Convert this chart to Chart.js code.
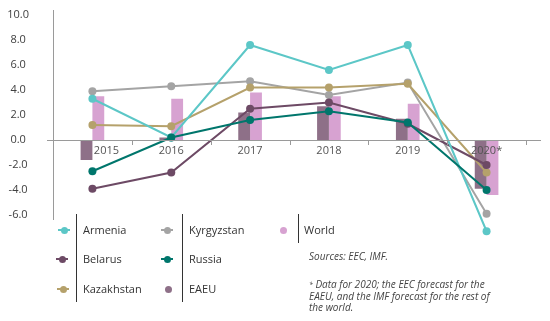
<!DOCTYPE html>
<html>
<head>
<meta charset="utf-8">
<script src="https://cdn.jsdelivr.net/npm/chart.js@4/dist/chart.umd.min.js"></script>
<style>
  body { margin: 0; background: #fff; font-family: "Open Sans", sans-serif; }
  #wrap { position: relative; width: 550px; height: 321px; }
  #wrap canvas { position: absolute; left: 0; top: 0; }
  .lg { position: absolute; font-size: 11px; color: #333; line-height: 14px; white-space: nowrap; }
  .sep { position: absolute; width: 1px; background: #333; }
  .ln { position: absolute; height: 2px; }
  .dot { position: absolute; width: 7px; height: 7px; border-radius: 50%; }
  .note { position: absolute; left: 309px; font-size: 10px; font-style: italic; color: #444; line-height: 11.5px; white-space: nowrap; }
</style>
</head>
<body>
<div id="wrap">
  <canvas id="chart" width="550" height="321"></canvas>
  <div class="note" style="top:251px">Sources: EEC, IMF.</div>
  <div class="note" style="top:279px"><span style="font-size:7px;vertical-align:top">*</span> Data for 2020; the EEC forecast for the<br>EAEU, and the IMF forecast for the rest of<br>the world.</div>
</div>
<script>
// categories
const years = ["2015", "2016", "2017", "2018", "2019", "2020*"];

// real GDP growth, %
const armenia = [3.3, 0.2, 7.6, 5.6, 7.6, -7.3];
const kyrgyzstan = [3.9, 4.3, 4.7, 3.6, 4.6, -5.9];
const kazakhstan = [1.2, 1.1, 4.2, 4.2, 4.5, -2.6];
const belarus = [-3.9, -2.6, 2.5, 3.0, 1.3, -2.0];
const russia = [-2.5, 0.2, 1.6, 2.3, 1.4, -4.0];
const eaeu = [-1.6, 0.2, 2.2, 2.7, 1.7, -3.9];
const world = [3.5, 3.3, 3.8, 3.5, 2.9, -4.4];

// y tick values
const yTicks = [-6, -4, -2, 0, 2, 4, 6, 8, 10];

const lineSet = (label, data, color, order) => ({
    type: "line",
    label,
    data,
    borderColor: color,
    backgroundColor: color,
    borderWidth: 2,
    pointRadius: 4,
    pointHoverRadius: 4,
    pointBorderWidth: 0,
    tension: 0,
    clip: false,
    order
});

// axis lines, category ticks and year labels
const axisPlugin = {
    id: "zeroAxis",
    afterDatasetsDraw(chart) {
        const { ctx, scales: { x, y } } = chart;
        const y0 = y.getPixelForValue(0);
        const half = (x.getPixelForValue(1) - x.getPixelForValue(0)) / 2;
        const left = Math.round(chart.chartArea.left) + 0.5;
        ctx.save();
        ctx.strokeStyle = "#9a9a9a";
        ctx.lineWidth = 1;
        ctx.beginPath();
        // vertical axis, stops a little below -6
        ctx.moveTo(left, y.getPixelForValue(10.4));
        ctx.lineTo(left, y.getPixelForValue(-6.4));
        // zero line
        ctx.moveTo(chart.chartArea.left - 6, y0 + 0.5);
        ctx.lineTo(chart.chartArea.right + 15, y0 + 0.5);
        for (let i = 0; i < years.length; i++) {
            const bx = Math.round(x.getPixelForValue(i) + half) + 0.5;
            ctx.moveTo(bx, y0);
            ctx.lineTo(bx, y0 + 5);
        }
        ctx.stroke();
        ctx.fillStyle = "#555";
        ctx.font = "11px 'Open Sans', sans-serif";
        ctx.textAlign = "center";
        ctx.textBaseline = "middle";
        years.forEach((yr, i) => {
            const shift = i === 0 ? 14 : 0; // 2015 sits right of the EAEU bar
            ctx.fillText(yr, x.getPixelForValue(i) + shift, y0 + 11);
        });
        ctx.restore();
    }
};

new Chart(document.getElementById("chart"), {
    type: "bar",
    data: {
        labels: years,
        datasets: [
            lineSet("Russia", russia, "#00766c", 1),
            lineSet("Armenia", armenia, "#5cc7c7", 2),
            lineSet("Belarus", belarus, "#6d4a65", 3),
            lineSet("Kazakhstan", kazakhstan, "#b5a16b", 4),
            lineSet("Kyrgyzstan", kyrgyzstan, "#a4a4a4", 5),
            {
                label: "EAEU",
                data: eaeu,
                backgroundColor: "#8e7088",
                categoryPercentage: 0.3,
                barPercentage: 1,
                order: 10
            },
            {
                label: "World",
                data: world,
                backgroundColor: "#d7a2d1",
                categoryPercentage: 0.3,
                barPercentage: 1,
                order: 11
            }
        ]
    },
    options: {
        responsive: false,
        animation: false,
        layout: { padding: { top: 10, bottom: 83.5, right: 24, left: 0 } },
        plugins: {
            legend: { display: false },
            tooltip: { enabled: false }
        },
        scales: {
            x: {
                display: false,
                offset: true
            },
            y: {
                min: -7.8,
                max: 10.4,
                afterBuildTicks: (scale) => {
                    scale.ticks = yTicks.map((v) => ({ value: v }));
                },
                afterFit: (scale) => {
                    scale.width = 53;
                    scale.paddingTop = 0;
                    scale.paddingBottom = 0;
                },
                grid: { display: false, drawTicks: false },
                border: { display: false },
                ticks: {
                    crossAlign: "center",
                    padding: 24,
                    color: "#404040",
                    font: { family: "'Open Sans', sans-serif", size: 11 },
                    callback: (v) => Number(v).toFixed(1)
                }
            }
        }
    },
    plugins: [axisPlugin]
});

// legend
const wrap = document.getElementById("wrap");
const legendItems = [
    { label: "Armenia", color: "#5cc7c7", line: true, mx: 64, tx: 83, cy: 230 },
    { label: "Belarus", color: "#6d4a65", line: true, mx: 62, tx: 83, cy: 259 },
    { label: "Kazakhstan", color: "#b5a16b", line: true, mx: 63, tx: 83, cy: 289 },
    { label: "Kyrgyzstan", color: "#a4a4a4", line: true, mx: 167, tx: 189, cy: 230 },
    { label: "Russia", color: "#00766c", line: true, mx: 167, tx: 189, cy: 259 },
    { label: "EAEU", color: "#8e7088", line: false, mx: 168, tx: 189, cy: 289 },
    { label: "World", color: "#d7a2d1", line: false, mx: 283, tx: 304, cy: 230 }
];
legendItems.forEach((it) => {
    if (it.line) {
        const ln = document.createElement("div");
        ln.className = "ln";
        ln.style.cssText = `left:${it.mx - 6}px;top:${it.cy - 1}px;width:12px;background:${it.color}`;
        wrap.appendChild(ln);
    }
    const dot = document.createElement("div");
    dot.className = "dot";
    dot.style.cssText = `left:${it.mx - 3.5}px;top:${it.cy - 3.5}px;background:${it.color}`;
    wrap.appendChild(dot);
    const tx = document.createElement("div");
    tx.className = "lg";
    tx.style.cssText = `left:${it.tx}px;top:${it.cy - 7}px`;
    tx.textContent = it.label;
    wrap.appendChild(tx);
});
[[76, 214, 88], [182, 214, 88], [298, 214, 29]].forEach(([x, t, h]) => {
    const s = document.createElement("div");
    s.className = "sep";
    s.style.cssText = `left:${x}px;top:${t}px;height:${h}px`;
    wrap.appendChild(s);
});
</script>
</body>
</html>
